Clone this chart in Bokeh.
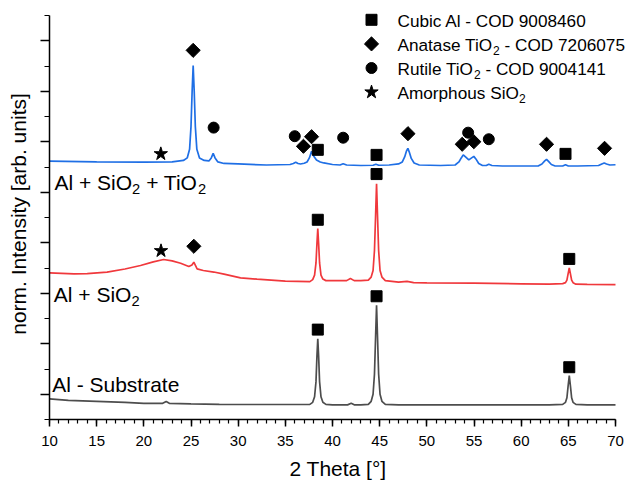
import math
from bokeh.plotting import figure
from bokeh.models import Range1d, SingleIntervalTicker, CustomJSTickFormatter
from bokeh.core.properties import value
from bokeh.embed import file_html
from bokeh.resources import INLINE

# ---------------- data ----------------
# Al - Substrate (grey)
sub_x = [10, 12, 15, 18, 20, 22.0, 22.37, 22.7, 25, 28, 30, 33, 36, 37.6, 37.9, 38.1, 38.25, 38.35, 38.44,
         38.53, 38.63, 38.78, 38.98, 39.3, 40, 41.6, 41.98, 42.3, 43.0, 43.8, 44.1, 44.3, 44.45, 44.57, 44.67,
         44.77, 44.89, 45.04, 45.24, 45.6, 47, 50, 55, 60, 63, 64.4, 64.7, 64.85, 64.97, 65.1, 65.23, 65.35,
         65.5, 65.8, 67, 70]
sub_y = [0.91, 0.88, 0.86, 0.84, 0.82, 0.82, 0.856, 0.82, 0.81, 0.80, 0.797, 0.797, 0.797, 0.80, 0.84, 0.95,
         1.25, 1.75, 2.10, 1.75, 1.25, 0.95, 0.84, 0.80, 0.79, 0.79, 0.82, 0.79, 0.79, 0.80, 0.86, 1.00, 1.40,
         2.15, 2.76, 2.15, 1.40, 1.00, 0.86, 0.80, 0.79, 0.79, 0.79, 0.79, 0.79, 0.80, 0.84, 0.93, 1.15, 1.37,
         1.15, 0.93, 0.84, 0.80, 0.79, 0.79]

# Al + SiO2 (red)
sio_x = [10, 12.6, 14, 16.1, 18, 19.65, 21, 22.1, 23.0, 23.9, 24.77, 25.1, 25.3, 25.65, 26.3, 27.42, 28.5,
         30.25, 32, 35, 37.6, 37.9, 38.1, 38.25, 38.35, 38.44, 38.53, 38.63, 38.78, 38.98, 39.3, 40, 41.5,
         41.9, 42.3, 43.0, 43.8, 44.1, 44.3, 44.45, 44.57, 44.67, 44.77, 44.89, 45.04, 45.24, 45.6, 47, 47.9,
         48.6, 50, 55, 60, 63, 64.4, 64.7, 64.85, 64.97, 65.1, 65.23, 65.35, 65.5, 65.8, 67, 70]
sio_y = [3.405, 3.385, 3.39, 3.42, 3.48, 3.55, 3.62, 3.668, 3.64, 3.595, 3.53, 3.56, 3.615, 3.484, 3.45,
         3.42, 3.38, 3.306, 3.28, 3.24, 3.23, 3.27, 3.36, 3.60, 3.98, 4.28, 3.98, 3.60, 3.36, 3.28, 3.25,
         3.25, 3.25, 3.29, 3.25, 3.25, 3.26, 3.32, 3.45, 3.85, 4.55, 5.17, 4.55, 3.85, 3.45, 3.32, 3.25,
         3.22, 3.235, 3.21, 3.207, 3.20, 3.187, 3.18, 3.19, 3.21, 3.26, 3.38, 3.50, 3.38, 3.26, 3.21, 3.18,
         3.175, 3.17]

# Al + SiO2 + TiO2 (blue)
tio_x = [10, 15, 20, 23, 24.2, 24.6, 24.85, 25.0, 25.12, 25.23, 25.34, 25.46, 25.62, 25.9, 26.4, 26.9,
         27.15, 27.35, 27.55, 27.85, 28.5, 30, 33, 35.5, 35.85, 36.1, 36.35, 36.6, 37.0, 37.3, 37.55, 37.78,
         38.0, 38.3, 38.7, 39.08, 40, 40.8, 41.13, 41.5, 43, 44.3, 44.6, 44.9, 46, 47.0, 47.4, 47.65, 47.85,
         47.99, 48.13, 48.35, 48.65, 49.2, 51.45, 53.0, 53.4, 53.65, 53.86, 54.1, 54.45, 54.75, 54.98, 55.2,
         55.5, 55.9, 56.3, 56.57, 56.9, 58, 60, 61.8, 62.2, 62.5, 62.69, 62.9, 63.2, 63.6, 64.4, 64.7, 65.0,
         66, 68.2, 68.55, 68.8, 69.05, 69.4, 70]
tio_y = [5.615, 5.60, 5.595, 5.60, 5.63, 5.68, 5.85, 6.30, 7.00, 7.51, 7.00, 6.30, 5.85, 5.68, 5.63, 5.62,
         5.68, 5.77, 5.68, 5.60, 5.57, 5.56, 5.54, 5.55, 5.57, 5.595, 5.57, 5.56, 5.575, 5.60, 5.68, 5.81,
         5.72, 5.64, 5.60, 5.58, 5.55, 5.54, 5.565, 5.54, 5.53, 5.535, 5.555, 5.535, 5.54, 5.56, 5.60, 5.70,
         5.82, 5.87, 5.80, 5.67, 5.58, 5.54, 5.53, 5.54, 5.60, 5.68, 5.74, 5.70, 5.64, 5.68, 5.71, 5.66,
         5.57, 5.53, 5.53, 5.555, 5.53, 5.52, 5.52, 5.52, 5.56, 5.62, 5.65, 5.61, 5.55, 5.52, 5.52, 5.545,
         5.52, 5.52, 5.53, 5.56, 5.58, 5.56, 5.54, 5.545]

# phase markers
al_x = [38.44, 44.67, 65.10, 38.44, 44.67, 65.10, 38.44, 44.67, 64.70]
al_y = [2.28, 2.94, 1.535, 4.455, 5.36, 3.68, 5.84, 5.74, 5.76]
anatase_x = [25.23, 36.92, 37.78, 48.00, 53.75, 54.98, 62.69, 68.84, 25.30]
anatase_y = [7.81, 5.91, 6.10, 6.16, 5.95, 6.00, 5.95, 5.87, 3.93]
rutile_x = [27.40, 36.00, 41.13, 54.38, 56.57]
rutile_y = [6.28, 6.11, 6.08, 6.18, 6.05]
sio2_x = [21.80, 21.82]
sio2_y = [5.76, 3.84]

# texts: (segment, is_subscript)
legend_labels = [[("Cubic Al - COD 9008460", False)],
                 [("Anatase TiO", False), ("2", True), (" - COD 7206075", False)],
                 [("Rutile TiO", False), ("2", True), (" - COD 9004141", False)],
                 [("Amorphous SiO", False), ("2", True)]]
curve_labels = [[("Al + SiO", False), ("2", True), (" + TiO", False), ("2", True)],
                [("Al + SiO", False), ("2", True)],
                [("Al - Substrate", False)]]
curve_label_pos = [(10.53, 5.07), (10.46, 2.856), (10.28, 1.074)]
x_min, x_max, x_step = 10, 70, 5
y_min, y_max = 0.5, 8.5

# ---------------- figure ----------------
FONT = "Liberation Sans"
# Liberation Sans is metric-compatible with Arial: advance widths per 1000 em
ADV = {" ": 278, "A": 667, "C": 722, "D": 722, "O": 778, "S": 667, "T": 611, "R": 722,
       "a": 556, "b": 556, "c": 500, "e": 556, "h": 556, "i": 222, "l": 222, "m": 833,
       "n": 556, "o": 556, "p": 556, "r": 333, "s": 500, "t": 278, "u": 556, "y": 500,
       "-": 333, "+": 584}


def text_width(s, size):
    return sum(ADV.get(c, 556) for c in s) / 1000.0 * size


FW, FH = 577, 411            # frame size in px
PX_PER_X = 566 / (x_max - x_min)
PX_PER_Y = 404 / (y_max - y_min)
p = figure(frame_width=FW, frame_height=FH,
           x_range=Range1d(x_min, x_min + FW / PX_PER_X),
           y_range=Range1d(y_min, y_min + FH / PX_PER_Y),
           output_backend="svg", toolbar_location=None,
           min_border_left=49, min_border_right=0, min_border_top=8, min_border_bottom=40)
p.extra_x_ranges = {"px": Range1d(0, FW)}
p.extra_y_ranges = {"px": Range1d(0, FH)}
p.outline_line_color = None
p.xgrid.visible = False
p.ygrid.visible = False
p.background_fill_color = "white"


def rich_text(x0, y0, parts, size):
    """draw text with subscripts in frame-pixel space, baseline at y0"""
    x = x0
    y0 = y0 + 0.3 * size      # empirical baseline correction of the svg text
    for seg, sub in parts:
        fs = size * 0.7 if sub else size
        dy = -size * 0.3 if sub else 0.0
        core = seg.lstrip(" ")
        x += text_width(seg[:len(seg) - len(core)], fs)   # leading blanks are collapsed in SVG
        p.text([x], [y0 + dy], text=[core], x_range_name="px", y_range_name="px",
               text_font=value(FONT), text_font_size=f"{fs:.2f}px", text_baseline="alphabetic",
               text_align="left", text_color="black")
        x += text_width(core, fs)


LW = 1.7
p.line(sub_x, sub_y, line_color="#4d4d4d", line_width=LW)
p.line(sio_x, sio_y, line_color="#f0383c", line_width=LW)
p.line(tio_x, tio_y, line_color="#1f6fe5", line_width=LW)

markers = [dict(marker="square", size=11, angle=0),
           dict(marker="square", size=10, angle=math.pi / 4),
           dict(marker="circle", size=11, angle=0),
           dict(marker="star", size=14, angle=0)]
for (mx, my), mk in zip([(al_x, al_y), (anatase_x, anatase_y), (rutile_x, rutile_y), (sio2_x, sio2_y)],
                        markers):
    p.scatter(mx, my, color="black", **mk)

# legend (drawn in frame-pixel space)
leg_left, leg_top, leg_pitch, leg_gap = 322, 399.7, 24.1, 26
for i, (parts, mk) in enumerate(zip(legend_labels, markers)):
    cy = leg_top - i * leg_pitch
    p.scatter([leg_left], [cy], color="black", x_range_name="px", y_range_name="px", **mk)
    rich_text(leg_left + leg_gap, cy - 6.5, parts, 17.2)

# curve labels
for parts, (lx, ly) in zip(curve_labels, curve_label_pos):
    rich_text((lx - x_min) * PX_PER_X, (ly - y_min) * PX_PER_Y, parts, 21)

# axes
xa = p.xaxis[0]
xa.ticker = SingleIntervalTicker(interval=x_step, num_minor_ticks=5)
xa.bounds = (x_min, x_max)
xa.axis_label = "2 Theta [°]"
ya = p.yaxis[0]
ya.ticker = SingleIntervalTicker(interval=1, num_minor_ticks=2)
ya.bounds = (y_min, y_max)
ya.axis_label = "norm. Intensity [arb. units]"
ya.formatter = CustomJSTickFormatter(code="return ''")
ya.major_label_standoff = 0
for ax in (xa, ya):
    ax.axis_line_width = 1.5
    ax.axis_line_color = "black"
    ax.major_tick_line_color = "black"
    ax.minor_tick_line_color = "black"
    ax.major_tick_line_width = 1.5
    ax.minor_tick_line_width = 1.2
    ax.major_tick_in = 0
    ax.minor_tick_in = 0
    ax.axis_label_text_font = FONT
    ax.axis_label_text_font_size = "21px"
    ax.axis_label_text_font_style = "normal"
    ax.axis_label_text_color = "black"
    ax.major_label_text_font = FONT
    ax.major_label_text_color = "black"
xa.major_tick_out = 7
xa.minor_tick_out = 4
ya.major_tick_out = 9
ya.minor_tick_out = 5
xa.major_label_text_font_size = "15px"
xa.major_label_standoff = 9
xa.axis_label_standoff = 8
ya.axis_label_standoff = 11

open("out.html", "w").write(file_html(p, INLINE))
